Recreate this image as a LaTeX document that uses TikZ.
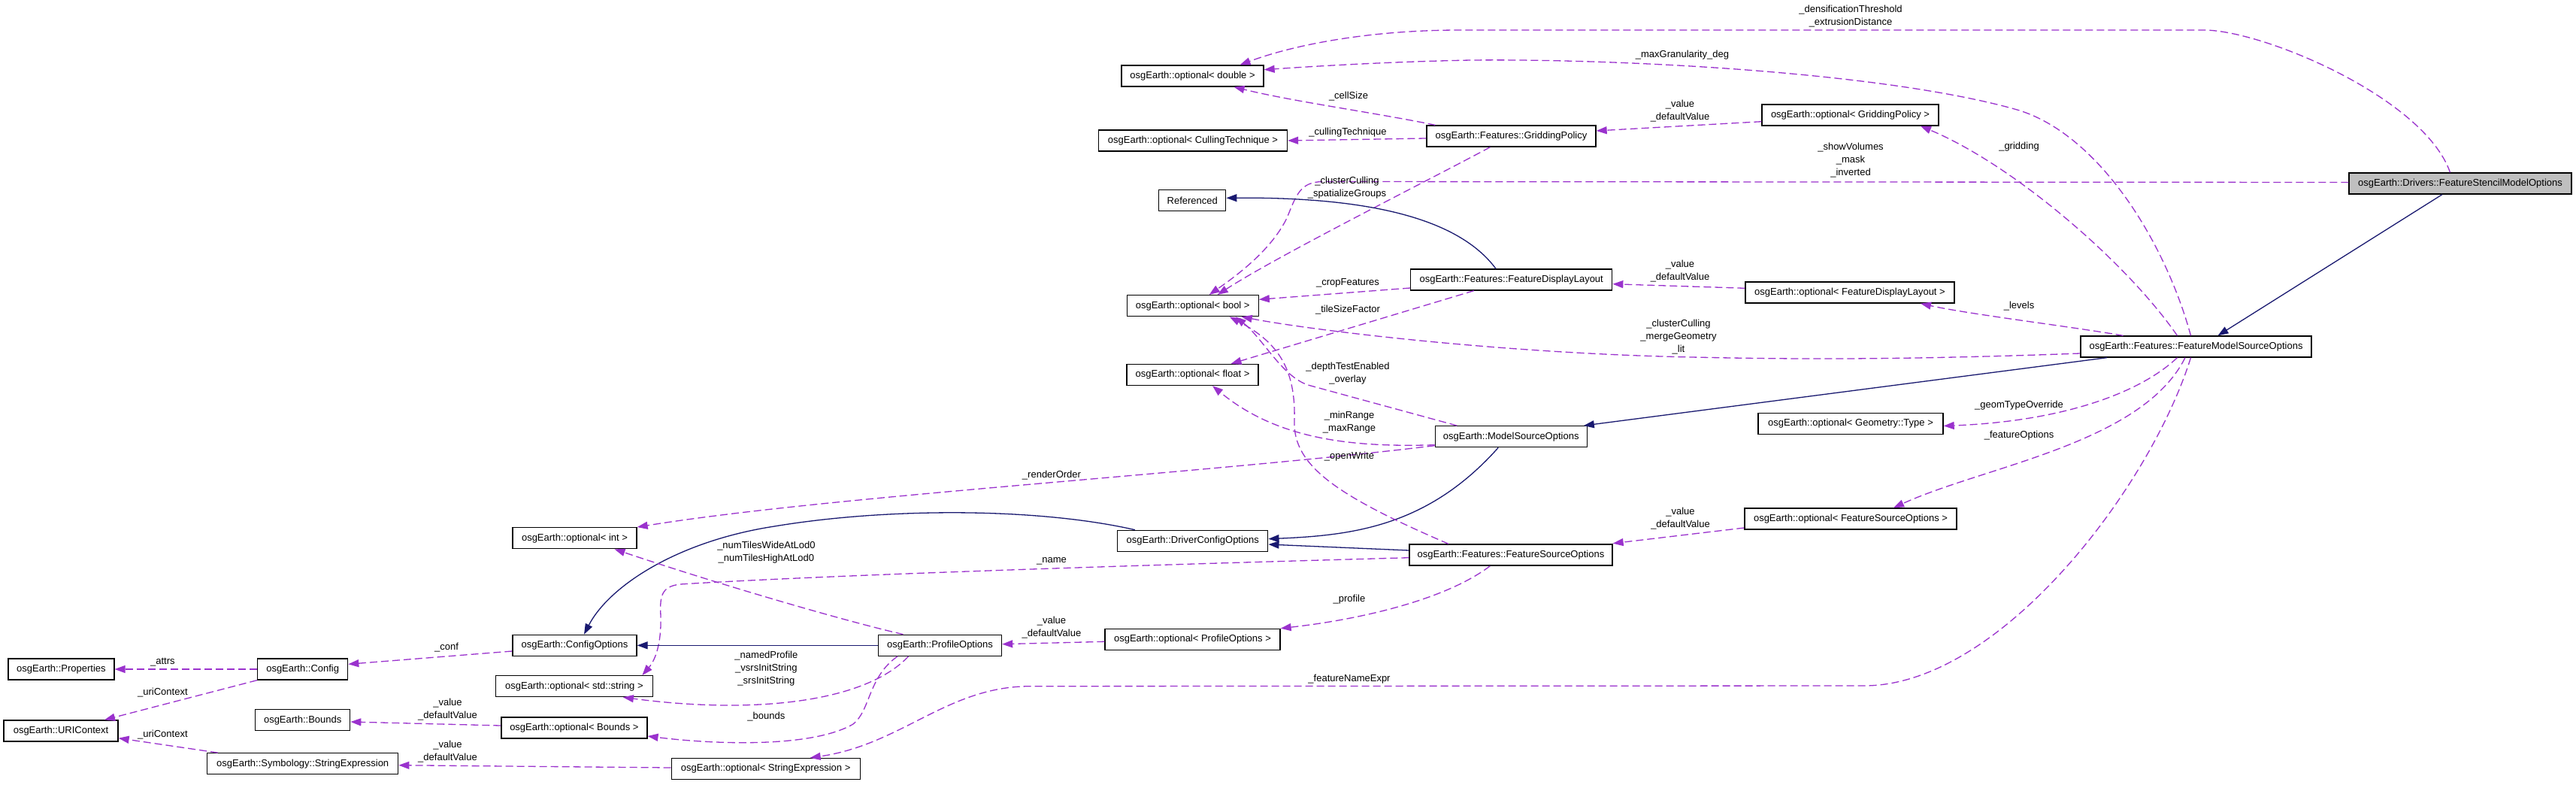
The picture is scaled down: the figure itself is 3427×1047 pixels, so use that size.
\documentclass[tikz,border=0pt]{standalone}
\usepackage{fontspec}
\setmainfont{Liberation Sans}
\usetikzlibrary{arrows.meta,calc}
\definecolor{edgepurple}{HTML}{9A32CD}
\definecolor{inhblue}{HTML}{191970}
\definecolor{nodegray}{HTML}{BFBFBF}
\begin{document}
\begin{tikzpicture}[x=1pt,y=-1pt,
  clsbox/.style={draw=black, line width=1.3pt, fill=white, minimum height=28pt, inner sep=0pt, font=\fontsize{13}{17}\selectfont},
  lbl/.style={inner sep=0pt, align=center, font=\fontsize{13}{17}\selectfont},
  useedge/.style={draw=edgepurple, line width=1.3pt, dash pattern=on 10pt off 5pt, -{Triangle[length=14pt,width=10pt]}},
  inhedge/.style={draw=inhblue, line width=1.3pt, -{Triangle[length=14pt,width=10pt]}}]
\fill[white] (0,0) rectangle (3427,1047);
\useasboundingbox (0,0) rectangle (3427,1047);

% nodes
\node[clsbox, fill=nodegray, minimum width=296pt] (fsmo) at (3273,244) {osgEarth::Drivers::FeatureStencilModelOptions};
\node[clsbox, minimum width=307pt] (fmso) at (2921.5,461) {osgEarth::Features::FeatureModelSourceOptions};
\node[clsbox, minimum width=235pt] (ogp) at (2461.5,153) {osgEarth::optional< GriddingPolicy >};
\node[clsbox, minimum width=278pt] (ofdl) at (2461,389) {osgEarth::optional< FeatureDisplayLayout >};
\node[clsbox, minimum width=246pt] (ogt) at (2462,563.5) {osgEarth::optional< Geometry::Type >};
\node[clsbox, minimum width=282pt] (ofso) at (2462,690) {osgEarth::optional< FeatureSourceOptions >};
\node[clsbox, minimum width=189pt] (dbl) at (1586.5,101) {osgEarth::optional< double >};
\node[clsbox, minimum width=251pt] (oct) at (1587,187) {osgEarth::optional< CullingTechnique >};
\node[clsbox, minimum width=225pt] (gp) at (2010.5,181) {osgEarth::Features::GriddingPolicy};
\node[clsbox, minimum width=89pt] (ref) at (1586.3,266.7) {Referenced};
\node[clsbox, minimum width=175pt] (obool) at (1586.7,406.7) {osgEarth::optional< bool >};
\node[clsbox, minimum width=268pt] (fdl) at (2010.7,372) {osgEarth::Features::FeatureDisplayLayout};
\node[clsbox, minimum width=175pt] (oflt) at (1586.5,498.5) {osgEarth::optional< float >};
\node[clsbox, minimum width=202pt] (mso) at (2010.2,580.7) {osgEarth::ModelSourceOptions};
\node[clsbox, minimum width=200pt] (dco) at (1586.8,719.3) {osgEarth::DriverConfigOptions};
\node[clsbox, minimum width=270pt] (fso) at (2010,738) {osgEarth::Features::FeatureSourceOptions};
\node[clsbox, minimum width=233pt] (opo) at (1586.5,850.3) {osgEarth::optional< ProfileOptions >};
\node[clsbox, minimum width=164pt] (po) at (1250.5,858.3) {osgEarth::ProfileOptions};
\node[clsbox, minimum width=165pt] (oint) at (764.5,715.7) {osgEarth::optional< int >};
\node[clsbox, minimum width=165pt] (co) at (764.5,858.3) {osgEarth::ConfigOptions};
\node[clsbox, minimum width=209pt] (ostr) at (763.9,912.7) {osgEarth::optional< std::string >};
\node[clsbox, minimum width=194pt] (obnd) at (763.9,968) {osgEarth::optional< Bounds >};
\node[clsbox, minimum width=251pt] (ose) at (1018.7,1022.5) {osgEarth::optional< StringExpression >};
\node[clsbox, minimum width=120pt] (cfg) at (402.7,890) {osgEarth::Config};
\node[clsbox, minimum width=141pt] (props) at (81.4,890) {osgEarth::Properties};
\node[clsbox, minimum width=126pt] (bnds) at (402.7,957.7) {osgEarth::Bounds};
\node[clsbox, minimum width=152pt] (uri) at (81,972) {osgEarth::URIContext};
\node[clsbox, minimum width=254pt] (se) at (402.7,1015.7) {osgEarth::Symbology::StringExpression};

% edges from FeatureStencilModelOptions
\draw[useedge] ($(fsmo.north)+(-13.5,0)$) .. controls (3225,130) and (3010,40) .. (2932,40) -- (1942,40) .. controls (1820,40) and (1720,60) .. ($(dbl.north)+(63,0)$);
\draw[useedge] ($(fsmo.west)+(0,-1.5)$) -- (1760,241.5) .. controls (1730,242) and (1725,258) .. (1712,290) .. controls (1690,335) and (1640,370) .. ($(obool.north)+(22,0)$);
\draw[inhedge] ($(fsmo.south)+(-24,0)$) -- ($(fmso.north)+(29,0)$);

% edges from FeatureModelSourceOptions
\draw[useedge] ($(fmso.north)+(-7,0)$) .. controls (2880,320) and (2790,175) .. (2680,145) .. controls (2500,95) and (2150,78) .. (1957,80) .. controls (1850,82) and (1750,88) .. ($(dbl.east)+(0,-8.3)$);
\draw[useedge] ($(fmso.north)+(-25,0)$) .. controls (2830,350) and (2680,220) .. ($(ogp.south)+(93.5,0)$);
\draw[useedge] ($(fmso.north)+(-97,0)$) .. controls (2760,435) and (2620,418) .. ($(ofdl.south)+(94,0)$);
\draw[useedge] ($(fmso.west)+(0,9)$) .. controls (2500,480) and (2350,477) .. (2250,475) .. controls (2000,470) and (1750,440) .. ($(obool.south)+(65,0)$);
\draw[inhedge] ($(fmso.south)+(-118.5,0)$) -- ($(mso.north east)+(-5,0)$);
\draw[useedge] ($(fmso.south)+(-25,0)$) .. controls (2850,520) and (2750,560) .. ($(ogt.east)+(0,3)$);
\draw[useedge] ($(fmso.south)+(-14.5,0)$) .. controls (2850,590) and (2640,620) .. ($(ofso.north)+(57,0)$);
\draw[useedge] ($(fmso.south)+(-7,0)$) .. controls (2860,650) and (2660,912) .. (2480,912) -- (1370,912.7) .. controls (1260,913) and (1200,990) .. ($(ose.north)+(59,0)$);

% edges from GriddingPolicy
\draw[useedge] ($(gp.north)+(-101,0)$) .. controls (1830,150) and (1720,135) .. ($(dbl.south)+(55,0)$);
\draw[useedge] ($(gp.west)+(0,3)$) -- (oct.east);
\draw[useedge] ($(gp.south)+(-28,0)$) .. controls (1900,240) and (1700,340) .. ($(obool.north)+(33,0)$);
\draw[useedge] ($(ogp.west)+(0,8.7)$) -- ($(gp.east)+(0,-7)$);

% edges from FeatureDisplayLayout
\draw[inhedge] ($(fdl.north)+(-20.7,0)$) .. controls (1940,290) and (1820,262) .. ($(ref.east)+(0,-3.4)$);
\draw[useedge] ($(fdl.west)+(0,11)$) -- ($(obool.east)+(0,-8.4)$);
\draw[useedge] ($(fdl.south)+(-50,0)$) -- ($(oflt.north)+(51,0)$);
\draw[useedge] ($(ofdl.west)+(0,-5.7)$) -- ($(fdl.east)+(0,5.7)$);

% edges from ModelSourceOptions
\draw[inhedge] ($(mso.south)+(-17,0)$) .. controls (1900,700) and (1800,712) .. ($(dco.east)+(0,-2.6)$);
\draw[useedge] ($(mso.west)+(0,11)$) .. controls (1800,595) and (1700,585) .. ($(oflt.south)+(26.5,0)$);
\draw[useedge] ($(mso.north)+(-72,0)$) -- (1740,512) .. controls (1705,500) and (1680,450) .. ($(obool.south)+(57,0)$);
\draw[useedge] ($(mso.west)+(0,12)$) .. controls (1600,630) and (1100,660) .. (oint.north east);

% edges from FeatureSourceOptions
\draw[useedge] ($(fso.north)+(-83,0)$) .. controls (1780,660) and (1720,620) .. (1722,560) .. controls (1724,490) and (1700,455) .. ($(obool.south)+(49,0)$);
\draw[inhedge] ($(fso.west)+(0,-6)$) -- ($(dco.east)+(0,4.7)$);
\draw[useedge] ($(fso.west)+(0,3.7)$) .. controls (1500,752) and (1100,765) .. (905,777) .. controls (878,780) and (878,795) .. (879,820) .. controls (880,860) and (870,880) .. ($(ostr.north)+(90.5,0)$);
\draw[useedge] ($(fso.south)+(-27.6,0)$) .. controls (1920,800) and (1800,825) .. (opo.north east);
\draw[useedge] ($(ofso.west)+(0,12)$) -- ($(fso.east)+(0,-15.3)$);

% DriverConfigOptions
\draw[inhedge] ($(dco.north)+(-77,0)$) .. controls (1380,675) and (1180,675) .. (1030,700) .. controls (900,720) and (810,780) .. ($(co.north)+(12.5,0)$);

% ProfileOptions
\draw[inhedge] (po.west) -- (co.east);
\draw[useedge] ($(opo.west)+(0,3)$) -- ($(po.east)+(0,-1.6)$);
\draw[useedge] ($(po.north)+(-49,0)$) .. controls (1120,825) and (950,775) .. ($(oint.south)+(53,0)$);
\draw[useedge] ($(po.south)+(-42,0)$) .. controls (1150,935) and (1000,950) .. ($(ostr.south)+(65,0)$);
\draw[useedge] ($(po.south)+(-56.5,0)$) .. controls (1155,900) and (1158,945) .. (1135,963) .. controls (1080,995) and (950,990) .. ($(obnd.east)+(0,11)$);

% left part
\draw[useedge] ($(obnd.west)+(0,-3)$) -- ($(bnds.east)+(0,2.3)$);
\draw[useedge] ($(ose.west)+(0,-1.5)$) -- ($(se.east)+(0,2)$);
\draw[useedge] ($(se.north)+(-113,0)$) -- ($(uri.east)+(0,9.7)$);
\draw[useedge] (cfg.south west) -- ($(uri.north)+(58,0)$);
\draw[useedge] (cfg.west) -- (props.east);
\draw[useedge] ($(co.west)+(0,7.7)$) -- ($(cfg.east)+(0,-6.7)$);

% labels
\node[lbl] (l1) at (2462,21.7) {\_densificationThreshold\\\_extrusionDistance};
\node[lbl] (l2) at (2238,73) {\_maxGranularity\_deg};
\node[lbl] (l3) at (1794,128) {\_cellSize};
\node[lbl] (l4) at (2235,147.3) {\_value\\\_defaultValue};
\node[lbl] (l5) at (1793,176) {\_cullingTechnique};
\node[lbl] (l6) at (1792,249.3) {\_clusterCulling\\\_spatializeGroups};
\node[lbl] (l7) at (2462,212.8) {\_showVolumes\\\_mask\\\_inverted};
\node[lbl] (l8) at (2686,195) {\_gridding};
\node[lbl] (l9) at (2235,360.2) {\_value\\\_defaultValue};
\node[lbl] (l10) at (1793,376) {\_cropFeatures};
\node[lbl] (l11) at (1793,411.7) {\_tileSizeFactor};
\node[lbl] (l12) at (2233,447.6) {\_clusterCulling\\\_mergeGeometry\\\_lit};
\node[lbl] (l13) at (2686,407.3) {\_levels};
\node[lbl] (l14) at (1793,496.3) {\_depthTestEnabled\\\_overlay};
\node[lbl] (l15) at (2686,538.7) {\_geomTypeOverride};
\node[lbl] (l16) at (2686,579.3) {\_featureOptions};
\node[lbl] (l17) at (1795,561.5) {\_minRange\\\_maxRange};
\node[lbl] (l18) at (1795,607.3) {\_openWrite};
\node[lbl] (l19) at (1399,632) {\_renderOrder};
\node[lbl] (l20) at (2235.5,690) {\_value\\\_defaultValue};
\node[lbl] (l21) at (1399,746) {\_name};
\node[lbl] (l22) at (1795,797.3) {\_profile};
\node[lbl] (l23) at (1399,834.8) {\_value\\\_defaultValue};
\node[lbl] (l24) at (1795,903.3) {\_featureNameExpr};
\node[lbl] (l25) at (1019.4,734.7) {\_numTilesWideAtLod0\\\_numTilesHighAtLod0};
\node[lbl] (l26) at (594,861) {\_conf};
\node[lbl] (l27) at (216.4,880.7) {\_attrs};
\node[lbl] (l28) at (216.4,921.3) {\_uriContext};
\node[lbl] (l29) at (1019.4,888.7) {\_namedProfile\\\_vsrsInitString\\\_srsInitString};
\node[lbl] (l30) at (595.5,944) {\_value\\\_defaultValue};
\node[lbl] (l31) at (1019.4,953.3) {\_bounds};
\node[lbl] (l32) at (216.4,977) {\_uriContext};
\node[lbl] (l33) at (595.5,999.3) {\_value\\\_defaultValue};
\end{tikzpicture}
\end{document}
